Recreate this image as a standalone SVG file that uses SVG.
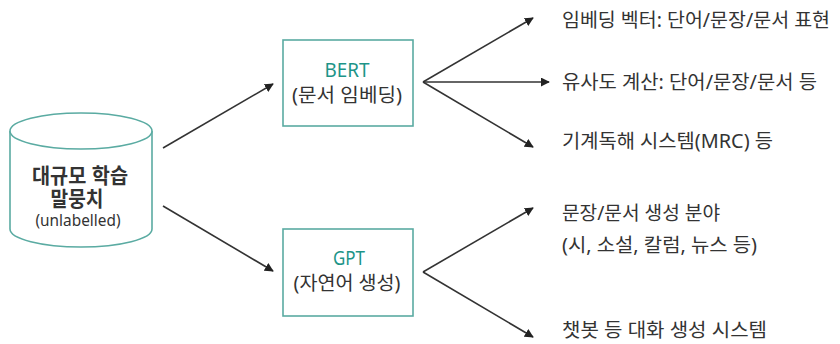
<svg xmlns="http://www.w3.org/2000/svg" width="840" height="344" viewBox="0 0 840 344">
<style>
.box{fill:#fff;stroke:#5aaba2;stroke-width:1.6}
.conn{stroke:#333;stroke-width:1.6;fill:none;marker-end:url(#ah)}
.t{font-family:"Noto Sans","Noto Sans CJK KR",sans-serif;fill:#333}
.k{font-family:"Liberation Sans","Noto Sans CJK KR",sans-serif}
.big{font-size:21px;font-weight:bold;text-anchor:middle}
.mid{font-size:19px;text-anchor:middle}
.sm{font-size:17px;text-anchor:middle}
.title{font-size:19px;fill:#1d9488;text-anchor:middle}
.lab{font-size:19px}
</style>
<defs>
<marker id="ah" viewBox="0 0 10 10" refX="9" refY="5" markerWidth="9" markerHeight="9" markerUnits="userSpaceOnUse" orient="auto">
<path d="M0,0 L10,5 L0,10 z" fill="#222"/>
</marker>
</defs>
<g id="corpus">
<path class="box" d="M10,131 L10,229 A71,18 0 0 0 152,229 L152,131"/>
<ellipse class="box" cx="81" cy="131" rx="71" ry="18"/>
<text class="t k big" x="80" y="183" textLength="96" lengthAdjust="spacingAndGlyphs">대규모 학습</text>
<text class="t k big" x="77" y="206" textLength="53" lengthAdjust="spacingAndGlyphs">말뭉치</text>
<text class="t sm" x="78" y="226" textLength="85" lengthAdjust="spacingAndGlyphs">(unlabelled)</text>
</g>
<g id="bert">
<rect class="box" x="283" y="40" width="130" height="86"/>
<text class="t title" x="347" y="77" textLength="45" lengthAdjust="spacingAndGlyphs">BERT</text>
<text class="t mid" x="347" y="102" textLength="110" lengthAdjust="spacingAndGlyphs">(문서 임베딩)</text>
</g>
<g id="gpt">
<rect class="box" x="283" y="229" width="130" height="87"/>
<text class="t title" x="349" y="265" textLength="32" lengthAdjust="spacingAndGlyphs">GPT</text>
<text class="t mid" x="347" y="290" textLength="107" lengthAdjust="spacingAndGlyphs">(자연어 생성)</text>
</g>
<g id="connectors">
<line class="conn" x1="163" y1="148" x2="273" y2="84"/>
<line class="conn" x1="163" y1="206" x2="273" y2="271"/>
<line class="conn" x1="423" y1="82" x2="533" y2="18"/>
<line class="conn" x1="423" y1="82" x2="549" y2="82"/>
<line class="conn" x1="423" y1="82" x2="533" y2="147"/>
<line class="conn" x1="423" y1="272" x2="533" y2="208"/>
<line class="conn" x1="423" y1="272" x2="533" y2="337"/>
</g>
<g id="labels">
<text class="t lab" x="562" y="27" textLength="268" lengthAdjust="spacingAndGlyphs">임베딩 벡터: 단어/문장/문서 표현</text>
<text class="t lab" x="562" y="89" textLength="255" lengthAdjust="spacingAndGlyphs">유사도 계산: 단어/문장/문서 등</text>
<text class="t lab" x="562" y="148" textLength="211" lengthAdjust="spacingAndGlyphs">기계독해 시스템(MRC) 등</text>
<text class="t lab" x="562" y="220" textLength="158" lengthAdjust="spacingAndGlyphs">문장/문서 생성 분야</text>
<text class="t lab" x="562" y="252" textLength="195" lengthAdjust="spacingAndGlyphs">(시, 소설, 칼럼, 뉴스 등)</text>
<text class="t lab" x="562" y="337" textLength="205" lengthAdjust="spacingAndGlyphs">챗봇 등 대화 생성 시스템</text>
</g>
</svg>
